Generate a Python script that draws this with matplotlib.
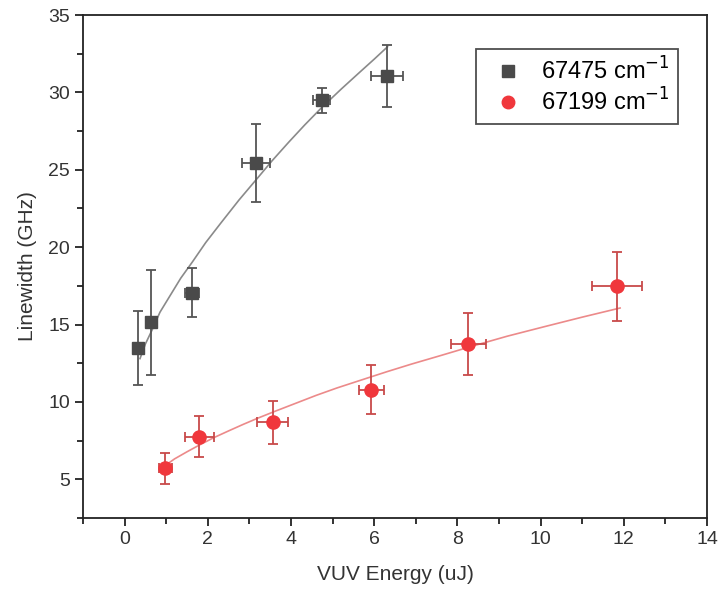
import numpy as np
import matplotlib.pyplot as plt
from matplotlib.lines import Line2D

plt.rcParams['font.family'] = ['Liberation Sans', 'DejaVu Sans']

# 67475 cm-1 series
x1 = [0.33, 0.64, 1.61, 3.16, 4.74, 6.31]
y1 = [13.5, 15.15, 17.07, 25.44, 29.5, 31.05]
x1err = [0.05, 0.05, 0.17, 0.33, 0.2, 0.38]
y1err = [2.4, 3.4, 1.6, 2.5, 0.8, 2.0]

# fit curve for 67475 cm-1
fit1_x = [0.37, 0.5, 0.66, 0.85, 1.10, 1.35, 1.63, 1.95, 2.31, 2.75, 3.19, 3.55,
          3.95, 4.33, 4.73, 5.2, 5.67, 6.0, 6.32]
fit1_y = [12.8, 13.75, 14.65, 15.8, 16.9, 18.0, 19.05, 20.3, 21.55, 23.05, 24.45,
          25.6, 26.8, 27.9, 29.0, 30.2, 31.35, 32.15, 32.95]

# 67199 cm-1 series
x2 = [0.98, 1.79, 3.56, 5.93, 8.26, 11.83]
y2 = [5.7, 7.75, 8.68, 10.8, 13.77, 17.46]
x2err = [0.16, 0.35, 0.37, 0.3, 0.42, 0.6]
y2err = [1.0, 1.33, 1.38, 1.56, 2.0, 2.23]

# fit curve for 67199 cm-1
fit2_x = [0.98, 1.2, 1.5, 1.8, 2.15, 2.5, 2.85, 3.2, 3.59, 4.1, 4.6, 5.1, 5.67,
          6.3, 6.9, 7.6, 8.35, 9.2, 10.1, 11.0, 11.91]
fit2_y = [5.9, 6.32, 6.78, 7.22, 7.7, 8.13, 8.55, 8.95, 9.37, 9.9, 10.42, 10.9,
          11.4, 11.95, 12.45, 13.0, 13.6, 14.25, 14.87, 15.48, 16.07]

labels = ['67475 cm$^{-1}$', '67199 cm$^{-1}$']

fig = plt.figure(figsize=(7.2, 5.99), dpi=100)
ax = fig.add_axes([0.1153, 0.1352, 0.8667, 0.8397])

dark = '#4a4a4a'
red = '#f0373c'

ax.plot(fit1_x, fit1_y, color='#8a8a8a', lw=1.2, zorder=1)
ax.plot(fit2_x, fit2_y, color='#ec8a8a', lw=1.2, zorder=1)

ax.errorbar(x1, y1, xerr=x1err, yerr=y1err, fmt='s', color=dark, ms=8.5,
            ecolor='#555555', elinewidth=1.3, capsize=3.5, capthick=1.3, zorder=3)
ax.errorbar(x2, y2, xerr=x2err, yerr=y2err, fmt='o', color=red, ms=9.5,
            ecolor='#c84a4a', elinewidth=1.3, capsize=3.5, capthick=1.3, zorder=3)

ax.set_xlim(-1, 14)
ax.set_ylim(2.5, 35)
ax.set_xticks(np.arange(0, 15, 2))
ax.set_xticks(np.arange(-1, 15, 1), minor=True)
ax.set_yticks(np.arange(5, 36, 5))
ax.set_yticks(np.arange(2.5, 35.1, 2.5), minor=True)
ax.tick_params(which='both', direction='out', top=False, right=False,
               labelsize=14, colors='#222222', labelcolor='#333333')
ax.tick_params(which='major', length=6, width=1.3)
ax.tick_params(which='minor', length=4, width=1.3)
for s in ax.spines.values():
    s.set_linewidth(1.3)
    s.set_color('#222222')

ax.set_xlabel('VUV Energy (uJ)', fontsize=15, labelpad=12, color='#333333')
ax.set_ylabel('Linewidth (GHz)', fontsize=15, labelpad=8, color='#333333')

handles = [Line2D([], [], ls='', marker='s', color=dark, ms=8),
           Line2D([], [], ls='', marker='o', color=red, ms=9)]
leg = ax.legend(handles, labels, loc='upper left', bbox_to_anchor=(0.63, 0.932),
                borderaxespad=0, fontsize=17, frameon=True, fancybox=False,
                edgecolor='#222222', handletextpad=0.4, borderpad=0.35,
                labelspacing=0.15, handlelength=2.0)
leg.get_frame().set_linewidth(1.3)

fig.savefig('out.png', dpi=100)
